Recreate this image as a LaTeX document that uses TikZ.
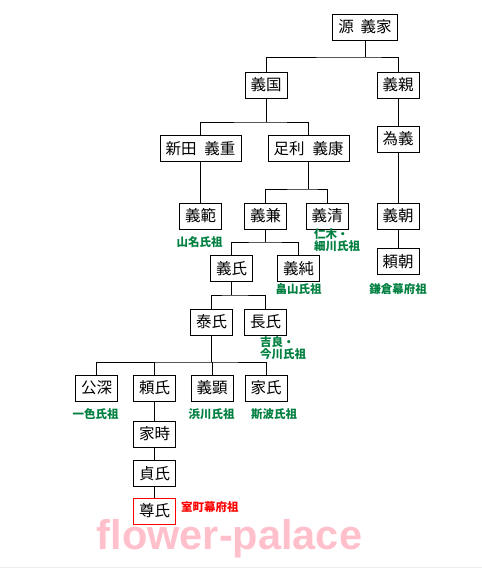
\documentclass[tikz,border=0pt]{standalone}
\usepackage{fontspec}
\setmainfont{Noto Sans CJK JP}
\newfontfamily\wmfont{Liberation Sans}
\definecolor{lblgreen}{RGB}{0,128,64}
\definecolor{wmpink}{RGB}{255,192,203}
\begin{document}
\begin{tikzpicture}[x=1pt,y=-1pt,
  person/.style={draw=black,line width=0.8pt,fill=white,inner xsep=5.5pt,inner ysep=0pt,
    minimum height=26pt,font=\fontsize{15.5}{16}\selectfont},
  founder/.style={font=\fontsize{11.5}{12.5}\selectfont\bfseries,text=lblgreen,inner sep=0pt,align=left},
  conn/.style={draw=black,line width=0.8pt}]
\useasboundingbox (0,0) rectangle (482,568);
\fill[white] (0,0) rectangle (482,568);
\draw[gray!15,line width=1pt] (0,567.5) -- (482,567.5);
% persons
\node[person] (ie) at (365,27) {源\hspace{7pt}義家};
\node[person] (kuni) at (266,85) {義国};
\node[person] (chika) at (398,85) {義親};
\node[person] (shige) at (200.5,148.5) {新田\hspace{8pt}義重};
\node[person] (yasu) at (308.5,148.5) {足利\hspace{8pt}義康};
\node[person] (tame) at (398,139) {為義};
\node[person] (nori) at (200.5,216) {義範};
\node[person] (kane) at (265.5,216) {義兼};
\node[person] (kiyo) at (327,216) {義清};
\node[person] (tomo) at (398,216) {義朝};
\node[person] (uji) at (231.5,268.5) {義氏};
\node[person] (zumi) at (298.5,268.5) {義純};
\node[person] (yori) at (398,261.5) {頼朝};
\node[person] (yasuuji) at (211.5,322) {泰氏};
\node[person] (osa) at (265.5,322) {長氏};
\node[person] (kofuka) at (96.5,388) {公深};
\node[person] (yoriuji) at (154.5,388) {頼氏};
\node[person] (akira) at (212,388) {義顕};
\node[person] (ieuji) at (266,388) {家氏};
\node[person] (ietoki) at (154.5,434) {家時};
\node[person] (sada) at (154.5,473.5) {貞氏};
\node[person,draw=red] (taka) at (154.5,511) {尊氏};
% bus coordinates
\coordinate (b1) at (365,57);
\coordinate (b2) at (266,122);
\coordinate (b3) at (308.5,189);
\coordinate (b4) at (265.5,242);
\coordinate (b5) at (231.5,295);
\coordinate (b6) at (211.5,362);
% connectors
\draw[conn] (ie.south) -- (b1);
\draw[conn] (kuni.north) |- (b1) -| (chika.north);
\draw[conn] (kuni.south) -- (b2);
\draw[conn] (shige.north) |- (b2) -| (yasu.north);
\draw[conn] (chika.south) -- (tame.north);
\draw[conn] (tame.south) -- (tomo.north);
\draw[conn] (tomo.south) -- (yori.north);
\draw[conn] (shige.south) -- (nori.north);
\draw[conn] (yasu.south) -- (b3);
\draw[conn] (kane.north) |- (b3) -| (kiyo.north);
\draw[conn] (kane.south) -- (b4);
\draw[conn] (uji.north) |- (b4) -| (zumi.north);
\draw[conn] (uji.south) -- (b5);
\draw[conn] (yasuuji.north) |- (b5) -| (osa.north);
\draw[conn] (yasuuji.south) -- (b6);
\draw[conn] (kofuka.north) |- (b6) -| (ieuji.north);
\draw[conn] (yoriuji.north) -- (yoriuji.north |- b6);
\draw[conn] (akira.north) -- (akira.north |- b6);
\draw[conn] (yoriuji.south) -- (ietoki.north);
\draw[conn] (ietoki.south) -- (sada.north);
\draw[conn] (sada.south) -- (taka.north);
% founder labels
\node[founder] (l1) at (199.5,242) {山名氏祖};
\node[founder,anchor=north west] (l2) at (314,228) {仁木・\\細川氏祖};
\node[founder] (l3) at (298.5,289) {畠山氏祖};
\node[founder] (l4) at (398,289) {鎌倉幕府祖};
\node[founder,anchor=north west] (l5) at (260,336) {吉良・\\今川氏祖};
\node[founder] (l6) at (95.5,414) {一色氏祖};
\node[founder] (l7) at (211.5,414) {浜川氏祖};
\node[founder] (l8) at (274,414) {斯波氏祖};
\node[founder,text=red,anchor=west] (l9) at (181,507) {室町幕府祖};
% watermark
\node[font=\wmfont\fontsize{41.5}{42}\selectfont\bfseries,text=wmpink,anchor=base,inner sep=0pt] (wm) at (229.5,549) {flower-palace};
\end{tikzpicture}
\end{document}
